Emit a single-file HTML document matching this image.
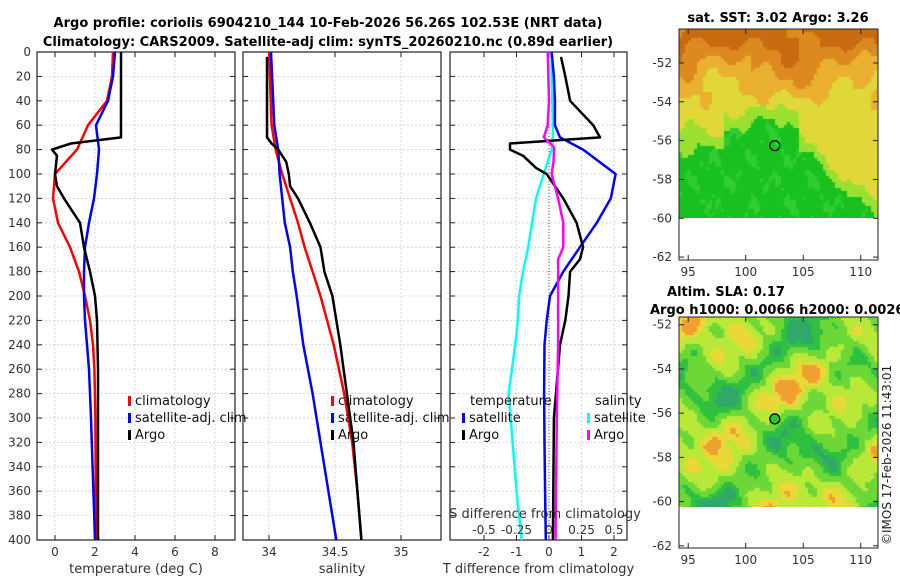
<!DOCTYPE html>
<html><head><meta charset="utf-8">
<style>
body{margin:0;background:#fff;width:900px;height:580px;overflow:hidden;font-family:"Liberation Sans","DejaVu Sans",sans-serif;}
svg text{font-family:"DejaVu Sans","Liberation Sans",sans-serif;}
#c1,#c2{position:absolute;}
</style></head>
<body>
<canvas id="c1" width="199" height="189" style="left:679px;top:29px;width:199px;height:189px"></canvas>
<canvas id="c2" width="199" height="190" style="left:679px;top:317px;width:199px;height:190px"></canvas>
<svg id="s" width="900" height="580" style="position:absolute;left:0;top:0"></svg>
<script>
// ---- data ----
const tDepth   = [0,20,40,60,70,75,80,85,100,110,120,140,160,180,200,220,260,300,400];
const tArgo    = [3.3,3.3,3.3,3.3,3.3,0.8,-0.15,0.1,0,0.1,0.45,1.25,1.45,1.75,2.0,2.1,2.15,2.15,2.15];
const cDepth   = [0,20,40,60,80,100,120,140,160,180,200,220,240,260,300,400];
const tClim    = [2.9,2.85,2.6,1.65,1.1,0,-0.1,0.15,0.75,1.2,1.5,1.75,1.9,1.97,2.02,2.05];
const tSat     = [3.0,2.9,2.65,2.05,2.2,2.1,1.95,1.7,1.5,1.45,1.45,1.5,1.6,1.7,1.8,2.0];
const sArgoDepth=[4,20,40,60,70,75,80,90,100,110,120,140,160,180,200,240,280,320,360,400];
const sArgo    = [33.985,33.985,33.985,33.985,33.985,34.02,34.07,34.13,34.15,34.16,34.22,34.31,34.39,34.42,34.48,34.54,34.59,34.64,34.67,34.70];
const sDepth   = [0,60,80,100,120,140,160,180,200,240,280,320,360,400];
const sClim    = [34.0,34.02,34.05,34.1,34.16,34.22,34.27,34.33,34.39,34.49,34.57,34.63,34.67,34.70];
const sSat     = [34.015,34.04,34.07,34.08,34.1,34.12,34.16,34.18,34.21,34.26,34.33,34.39,34.45,34.51];
const dDepth   = [4,20,40,60,70,75,80,85,95,100,120,140,160,170,180,200,220,240,300,400];
const dTArgo   = [0.37,0.5,0.65,1.36,1.57,-1.2,-1.2,-0.8,-0.4,-0.07,0.44,0.85,1.05,0.95,0.65,0.6,0.5,0.34,0.15,0.12];
const dsDepth  = [0,20,40,60,70,80,100,120,140,160,180,200,220,240,280,320,360,400];
const dTSat    = [0.08,0.15,0.18,0.18,0.34,1.05,2.05,1.9,1.47,0.95,0.44,0.03,-0.07,-0.14,-0.15,-0.14,-0.12,-0.1];
const dSSat    = [0.02,0.02,0.025,0.03,0.03,0.02,-0.04,-0.1,-0.13,-0.16,-0.2,-0.23,-0.24,-0.26,-0.31,-0.28,-0.25,-0.21];
const dsaDepth = [0,40,60,70,78,90,100,120,140,160,170,200,240,300,400];
const dSArgo   = [-0.01,0,-0.01,-0.04,0.04,0.035,0.02,0.07,0.11,0.11,0.07,0.07,0.07,0.06,0.05];
const depthTicks=[0,20,40,60,80,100,120,140,160,180,200,220,240,260,280,300,320,340,360,380,400];
const tTicks=[0,2,4,6,8], sTicks=[34,34.5,35], dTicks=[-2,-1,0,1,2], dsTicks=[-0.5,-0.25,0,0.25,0.5];
const dsTickLabels=['-0.5','-0.25','0','0.25','0.5'];
const lonTicks=[95,100,105,110], latTicks=[-52,-54,-56,-58,-60,-62];

// ---- scales ----
const Y0=52,Y1=540;
const yD=d=>Y0+(d/400)*(Y1-Y0);
const xT=t=>55+20*t;
const xS=s=>269+132*(s-34);
const xDT=v=>549+32.5*v;
const xDS=v=>549+130*v;
const svg=document.getElementById('s');
const NS='http://www.w3.org/2000/svg';
function el(tag,attrs,parent){const e=document.createElementNS(NS,tag);for(const k in attrs)e.setAttribute(k,attrs[k]);(parent||svg).appendChild(e);return e;}
function txt(x,y,s,opts,parent){const t=el('text',Object.assign({x:x,y:y,'font-size':12,fill:'#333'},opts||{}),parent);t.textContent=s;return t;}
function line(xs,ds,xf,color,name,w){
  const pts=xs.map((v,i)=>xf(v).toFixed(1)+','+yD(ds[i]).toFixed(1)).join(' ');
  const p=el('polyline',{points:pts,fill:'none',stroke:color,'stroke-width':w||2.5,'stroke-linejoin':'round'});
  
  
}
const panels=[{x0:37,x1:235,name:'temperature-panel',ticks:tTicks,xf:xT,lab:'temperature (deg C)',labs:tTicks.map(String)},
  {x0:243,x1:441,name:'salinity-panel',ticks:sTicks,xf:xS,lab:'salinity',labs:['34','34.5','35']},
  {x0:450,x1:627,name:'difference-panel',ticks:dTicks,xf:xDT,lab:'T difference from climatology',labs:['-2','-1','0','1','2']}];
panels.forEach((p,pi)=>{
  const g=el('g',{});
  
  
  depthTicks.forEach(d=>{el('line',{x1:p.x0,x2:p.x1,y1:yD(d),y2:yD(d),stroke:'#c4cdec','stroke-width':0.8,'stroke-dasharray':'2,2'},g);
    el('line',{x1:p.x0,x2:p.x0+5,y1:yD(d),y2:yD(d),stroke:'#222'},g);el('line',{x1:p.x1-5,x2:p.x1,y1:yD(d),y2:yD(d),stroke:'#222'},g);});
  p.ticks.forEach((t,i)=>{const x=p.xf(t);el('line',{x1:x,x2:x,y1:Y0,y2:Y1,stroke:'#c4cdec','stroke-width':0.8,'stroke-dasharray':'2,2'},g);
    el('line',{x1:x,x2:x,y1:Y1-5,y2:Y1,stroke:'#222'},g);el('line',{x1:x,x2:x,y1:Y0,y2:Y0+5,stroke:'#222'},g);
    txt(x,556,p.labs[i],{'text-anchor':'middle'},g);});
  el('rect',{x:p.x0,y:Y0,width:p.x1-p.x0,height:Y1-Y0,fill:'none',stroke:'#222','stroke-width':1.2},g);
  txt((p.x0+p.x1)/2,573,p.lab,{'text-anchor':'middle','font-size':13},g);
});
depthTicks.forEach(d=>txt(31,yD(d)+4,String(d),{'text-anchor':'end','font-size':12}));
el('line',{x1:xDT(0),x2:xDT(0),y1:Y0,y2:Y1,stroke:'#555','stroke-width':1,'stroke-dasharray':'1,2'});
line(tClim,cDepth,xT,'#f00','temp-climatology-line');
line(tSat,cDepth,xT,'#00f','temp-satellite-line');
line(tArgo,tDepth,xT,'#000','temp-argo-line');
line(sClim,sDepth,xS,'#f00','sal-climatology-line');
line(sSat,sDepth,xS,'#00f','sal-satellite-line');
line(sArgo,sArgoDepth,xS,'#000','sal-argo-line');
line(dSSat,dsDepth,xDS,'#0ff','sdiff-satellite-line');
line(dTSat,dsDepth,xDT,'#00f','tdiff-satellite-line');
line(dTArgo,dDepth,xDT,'#000','tdiff-argo-line');
line(dSArgo,dsaDepth,xDS,'#f0f','sdiff-argo-line');
txt(545,518,'S difference from climatology',{'text-anchor':'middle','font-size':13});
dsTicks.forEach((v,i)=>txt(xDS(v),534,dsTickLabels[i],{'text-anchor':'middle','font-size':12}));
function leg(x,y,c,s,name){const g=el('g',{});
  el('rect',{x:x,y:y-9,width:3,height:10,fill:c},g);txt(x+7,y,s,{'font-size':13,fill:'#111'},g);}
[[128,'climatology','#f00'],[128,'satellite-adj. clim','#00f'],[128,'Argo','#000']].forEach((l,i)=>leg(l[0],405+17*i,l[2],l[1],'temp-legend-entry'));
[[331,'climatology','#f00'],[331,'satellite-adj. clim','#00f'],[331,'Argo','#000']].forEach((l,i)=>leg(l[0],405+17*i,l[2],l[1],'sal-legend-entry'));
txt(470,405,'temperature',{'font-size':13,fill:'#111'});
leg(462,422,'#00f','satellite','tdiff-legend-satellite');leg(462,439,'#000','Argo','tdiff-legend-argo');
txt(595,405,'salinity',{'font-size':13,fill:'#111'});
leg(587,422,'#0ff','satellite','sdiff-legend-satellite');leg(587,439,'#f0f','Argo','sdiff-legend-argo');
txt(328,27,'Argo profile: coriolis 6904210_144 10-Feb-2026 56.26S 102.53E (NRT data)',{'text-anchor':'middle','font-size':13,'font-weight':'bold',fill:'#000'});
txt(328,46,'Climatology: CARS2009. Satellite-adj clim: synTS_20260210.nc (0.89d earlier)',{'text-anchor':'middle','font-size':13,'font-weight':'bold',fill:'#000'});
txt(778,22,'sat. SST: 3.02 Argo: 3.26',{'text-anchor':'middle','font-size':13,'font-weight':'bold',fill:'#000'});
txt(726,296,'Altim. SLA: 0.17',{'text-anchor':'middle','font-size':13,'font-weight':'bold',fill:'#000'});
txt(650,314,'Argo h1000: 0.0066 h2000: 0.0026',{'font-size':13,'font-weight':'bold',fill:'#000'});
const cr=txt(0,0,'©IMOS 17-Feb-2026 11:43:01',{'font-size':12,fill:'#222',transform:'translate(891,545) rotate(-90)'});
const maps=[{y0:29,y1:260,latTop:-50.25,latBot:-62.15,name:'sst-map'},{y0:317,y1:548,latTop:-51.65,latBot:-62.1,name:'sla-map'}];
const lonL=94.2,lonR=111.5;
maps.forEach(m=>{
  const g=el('g',{});
  const xL=lon=>679+(lon-lonL)/(lonR-lonL)*199;
  const yL=lat=>m.y0+(m.latTop-lat)/(m.latTop-m.latBot)*(m.y1-m.y0);
  el('rect',{x:679,y:m.y0,width:199,height:m.y1-m.y0,fill:'none',stroke:'#222','stroke-width':1},g);
  latTicks.forEach(l=>{const y=yL(l);el('line',{x1:679,x2:684,y1:y,y2:y,stroke:'#222'},g);el('line',{x1:873,x2:878,y1:y,y2:y,stroke:'#222'},g);
    txt(672,y+4,String(l),{'text-anchor':'end'},g);});
  lonTicks.forEach(l=>{const x=xL(l);el('line',{x1:x,x2:x,y1:m.y1-5,y2:m.y1,stroke:'#222'},g);el('line',{x1:x,x2:x,y1:m.y0,y2:m.y0+5,stroke:'#222'},g);
    txt(x,m.y1+16,String(l),{'text-anchor':'middle'},g);});
  el('circle',{cx:xL(102.53),cy:yL(-56.26),r:5,fill:m.name=='sla-map'?'#30c030':'none',stroke:'#000','stroke-width':1.2},g);
});
function n(x,y,a){return Math.sin(x*0.9+a)*Math.cos(y*1.3-a)+0.5*Math.sin(x*2.1+y*1.7+a*2)+0.3*Math.sin(x*4.3-y*3.1+a);}
(function(){
  const c=document.getElementById('c1').getContext('2d');
  for(let y=0;y<189;y+=3)for(let x=0;x<199;x+=3){
    const lon=lonL+x/199*(lonR-lonL), lat=-50.25-y/19.4;
    let b=-55.2; if(lon<98)b=-56.3; else if(lon>104.5)b=-56.5-(lon-104.5)*0.5;
    const w=n(lon,lat,1)*0.4;
    let col;
    if(lat<b+w){col=(n(lon*2,lat*2,3)>0.6)?'#30cc30':'#18c020';}
    else if(lat<b+w+0.8)col='#9ae030';
    else{const t=lat+0.9*n(lon*0.6,lat*0.8,2);
      col=t>-51?'#c86a10':t>-52.2?'#dc8a20':t>-53.5?'#eab030':'#e0d838';}
    c.fillStyle=col;c.fillRect(x,y,3,3);}
  const d=document.getElementById('c2').getContext('2d');
  for(let y=0;y<190;y+=3)for(let x=0;x<199;x+=3){
    const v=n(x/28,y/24,0.7)+0.35*n(x/14,y/12,2.3);
    const col=v>1.1?'#f0a030':v>0.7?'#e8d838':v>0.1?'#b8e838':v>-0.6?'#6cd838':v>-1.1?'#30c040':'#30a868';
    d.fillStyle=col;d.fillRect(x,y,3,3);}
})();
</script>
</body></html>
